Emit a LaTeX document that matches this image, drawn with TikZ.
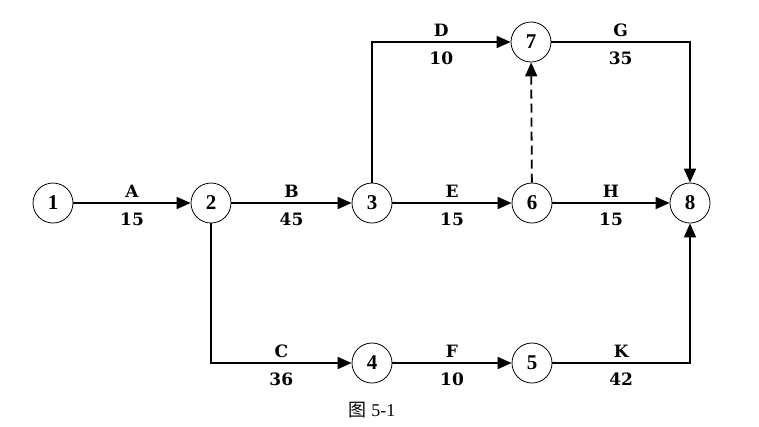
\documentclass[tikz,border=0pt]{standalone}
\usepackage{fontspec}
\setmainfont{Liberation Serif}
\newfontfamily\labfont{DejaVu Serif}
\newfontfamily\cjk{Noto Sans CJK SC}
\usetikzlibrary{arrows.meta}
\begin{document}
\begin{tikzpicture}[x=1pt,y=-1pt,
  ev/.style={circle,draw,line width=0.8pt,minimum size=40pt,inner sep=0pt,font=\fontsize{21}{21}\selectfont\bfseries},
  arr/.style={line width=1.8pt,-{Triangle[length=14pt,width=12pt]}},
  dumm/.style={line width=1.8pt,dashed,dash pattern=on 9pt off 5pt,-{Triangle[length=14pt,width=12pt]}},
  lab/.style={font=\labfont\fontsize{17}{17}\selectfont\bfseries,inner sep=2pt},
  la/.style={lab,above=2.5pt},
  lb/.style={lab,below=6.5pt}]
\useasboundingbox (0,0) rectangle (759,426);
\node[ev] (n1) at (53,203) {1};
\node[ev] (n2) at (211,203) {2};
\node[ev] (n3) at (372,203) {3};
\node[ev] (n6) at (532,203) {6};
\node[ev] (n8) at (690,203) {8};
\node[ev] (n7) at (531,42) {7};
\node[ev] (n4) at (372,363) {4};
\node[ev] (n5) at (532,363) {5};
\draw[arr] (n1) -- node[la]{A} node[lb]{15} (n2);
\draw[arr] (n2) -- node[la]{B} node[lb]{45} (n3);
\draw[arr] (n3) -- node[la]{E} node[lb]{15} (n6);
\draw[arr] (n6) -- node[la]{H} node[lb]{15} (n8);
\draw[arr] (n4) -- node[la]{F} node[lb]{10} (n5);
\draw[arr] (n2.south) |- node[pos=0.75,la]{C} node[pos=0.75,lb]{36} (n4);
\draw[arr] (n3.north) |- node[pos=0.75,la]{D} node[pos=0.75,lb]{10} (n7);
\draw[arr] (n7) -| node[pos=0.25,la]{G} node[pos=0.25,lb]{35} (n8.north);
\draw[arr] (n5) -| node[pos=0.25,la]{K} node[pos=0.25,lb]{42} (n8.south);
\draw[dumm] (n6) -- (n7);
\node[font=\fontsize{18}{18}\selectfont] (cap) at (372,410) {{\cjk 图} 5-1};
\end{tikzpicture}
\end{document}
